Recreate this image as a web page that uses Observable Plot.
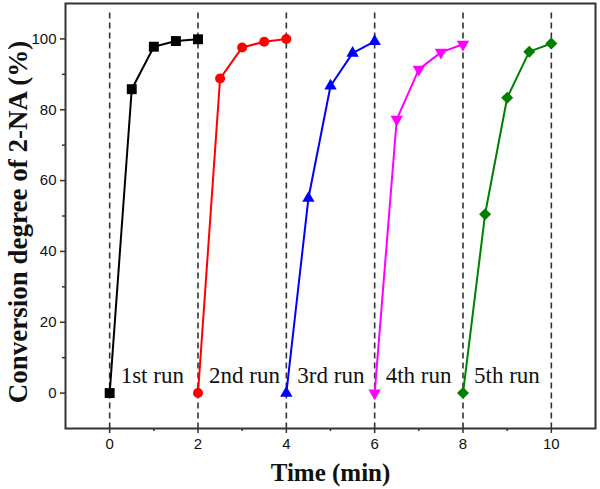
<!DOCTYPE html>
<html>
<head>
<meta charset="utf-8">
<script src="https://cdn.jsdelivr.net/npm/d3@7"></script>
<script src="https://cdn.jsdelivr.net/npm/@observablehq/plot@0.6"></script>
<style>
  html, body { margin: 0; padding: 0; background: #fff; }
</style>
</head>
<body>
<div id="chart"></div>
<script>
const runs = ["1st run", "2nd run", "3rd run", "4th run", "5th run"];
const times = [
  [0, 0.5, 1, 1.5, 2],
  [2, 2.5, 3, 3.5, 4],
  [4, 4.5, 5, 5.5, 6],
  [6, 6.5, 7, 7.5, 8],
  [8, 8.5, 9, 9.5, 10]
];
const values = [
  [0, 85.8, 97.8, 99.4, 99.9],
  [0, 88.8, 97.6, 99.2, 100],
  [0, 55, 86.7, 96, 99.3],
  [0, 77.3, 91.4, 96.2, 98.5],
  [0, 50.5, 83.4, 96.4, 98.7]
];
const colors = ["#000000", "#ff0000", "#0000ff", "#ff00ff", "#008000"];
const symbols = ["square", "circle", "triangle", "triangle", "square"];
const rotations = [0, 0, 0, 180, 45];
const radii = [5.6, 5, 4.6, 4.6, 4.8];
const dividers = [0, 2, 4, 6, 8, 10];
const xTicks = [0, 2, 4, 6, 8, 10];
const xMinor = [1, 3, 5, 7, 9];
const yTicks = [0, 20, 40, 60, 80, 100];
const yMinor = [10, 30, 50, 70, 90];

const rows = [];
runs.forEach((run, i) => {
  times[i].forEach((t, j) => rows.push({run, i, t, v: values[i][j]}));
});
const starts = runs.map((run, i) => ({run, t: times[i][0], v: values[i][0]}));

const colorScale = {domain: runs, range: colors};

const chart = Plot.plot({
  width: 600,
  height: 489,
  marginLeft: 65,
  marginRight: 5,
  marginTop: 3,
  marginBottom: 61,
  x: {domain: [-1, 11]},
  y: {domain: [-10, 110]},
  color: colorScale,
  style: {background: "#fff"},
  marks: [
    Plot.ruleX(dividers, {y1: 107.3, y2: -10, stroke: "#333", strokeWidth: 1.6, strokeDasharray: "6,4"}),
    Plot.line(rows, {x: "t", y: "v", z: "run", stroke: "run", strokeWidth: 2}),
    ...runs.map((run, i) =>
      Plot.dot(rows.filter(d => d.i === i), {
        x: "t", y: "v", fill: colors[i], stroke: "none",
        symbol: symbols[i], r: radii[i], rotate: rotations[i]
      })
    ),
    Plot.text(starts, {
      x: "t", y: "v", text: "run", dx: 11, dy: -17, textAnchor: "start",
      fontFamily: "Liberation Serif, Times New Roman, serif", fontSize: 23, fill: "#111"
    }),
    Plot.axisX({ticks: xTicks, tickSize: 5, tickPadding: 5, fontSize: 15,
      fontFamily: "Liberation Sans, Arial, sans-serif", stroke: "#333", strokeWidth: 1.5, fill: "#111", label: null}),
    Plot.axisX({ticks: xMinor, tickSize: 3, tickFormat: () => "", stroke: "#333", strokeWidth: 1.5, label: null}),
    Plot.axisY({ticks: yTicks, tickSize: 5, tickPadding: 4, fontSize: 15,
      fontFamily: "Liberation Sans, Arial, sans-serif", stroke: "#333", strokeWidth: 1.5, fill: "#111", label: null}),
    Plot.axisY({ticks: yMinor, tickSize: 3, tickFormat: () => "", stroke: "#333", strokeWidth: 1.5, label: null}),
    Plot.frame({stroke: "#333", strokeWidth: 2}),
    Plot.text(["Conversion degree of 2-NA (%)"], {
      text: d => d, frameAnchor: "left", textAnchor: "middle", lineAnchor: "middle",
      dx: -47, dy: 6, rotate: -90,
      fontFamily: "Liberation Serif, Times New Roman, serif", fontWeight: "bold", fontSize: 27, fill: "#111"
    }),
    Plot.text(["Time (min)"], {
      text: d => d, frameAnchor: "bottom", textAnchor: "middle", lineAnchor: "middle", dy: 44,
      fontFamily: "Liberation Serif, Times New Roman, serif", fontWeight: "bold", fontSize: 25, fill: "#111"
    })
  ]
});
document.getElementById("chart").appendChild(chart);
</script>
</body>
</html>
